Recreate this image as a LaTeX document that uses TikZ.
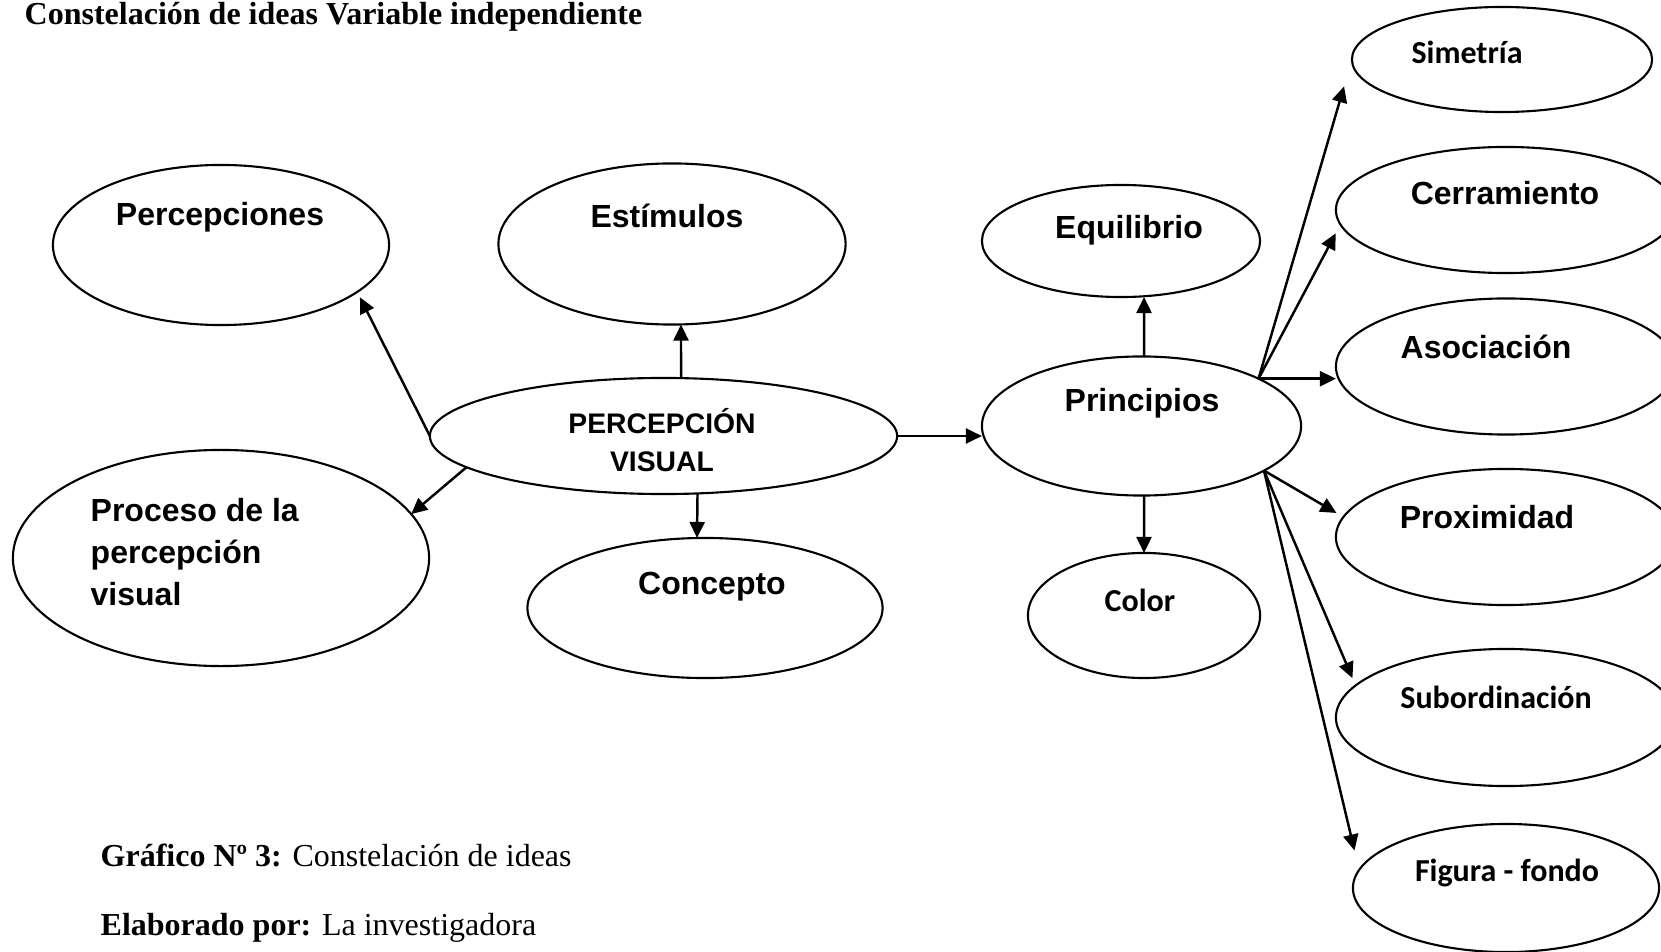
\documentclass[tikz,border=0pt]{standalone}
\usepackage{fontspec}
\setmainfont{Liberation Serif}
\newfontfamily\arialfont{Liberation Sans}
\newfontfamily\calibrifont{Carlito}
\usepackage{tikz}
\usetikzlibrary{arrows.meta, shapes.geometric}

\begin{document}
\begin{tikzpicture}[
        x=0.01cm, y=-0.01cm,
        idea/.style  = {draw, ellipse, line width=0.6pt, inner sep=0pt, outer sep=0pt},
        lbl/.style   = {inner sep=0pt, font=\arialfont\bfseries\fontsize{9.1}{11.95}\selectfont},
        lblc/.style  = {inner sep=0pt, font=\calibrifont\bfseries\fontsize{9.1}{11.95}\selectfont},
        note/.style  = {inner sep=0pt, anchor=base west, font=\fontsize{9.1}{11}\selectfont},
        arrow/.style = {-{Triangle[length=1.6mm, width=1.5mm]}, line width=0.7pt},
    ]
        \useasboundingbox (0,0) rectangle (1661,952);
        % left group
        \node[idea, minimum width=3.36cm, minimum height=1.60cm] (perc) at (221,245) {};
        \node[idea, minimum width=3.47cm, minimum height=1.61cm] (estim) at (672,244) {};
        \node[idea, minimum width=4.67cm, minimum height=1.16cm] (pv) at (663.5,436) {};
        \node[idea, minimum width=4.16cm, minimum height=2.16cm] (proc) at (221,558) {};
        \node[idea, minimum width=3.55cm, minimum height=1.40cm] (conc) at (705,608) {};
        % middle group
        \node[idea, minimum width=2.78cm, minimum height=1.12cm] (equi) at (1121,241) {};
        \node[idea, minimum width=3.19cm, minimum height=1.39cm] (prin) at (1141.5,426) {};
        \node[idea, minimum width=2.32cm, minimum height=1.25cm] (colr) at (1144,615.5) {};
        % right column
        \node[idea, minimum width=3.00cm, minimum height=1.05cm] (sime) at (1502,59.5) {};
        \node[idea, minimum width=3.40cm, minimum height=1.26cm] (cerr) at (1506,210) {};
        \node[idea, minimum width=3.40cm, minimum height=1.36cm] (asoc) at (1506,366.5) {};
        \node[idea, minimum width=3.40cm, minimum height=1.36cm] (prox) at (1506,537) {};
        \node[idea, minimum width=3.40cm, minimum height=1.37cm] (subo) at (1506,717.5) {};
        \node[idea, minimum width=3.06cm, minimum height=1.28cm] (figu) at (1506,888) {};

        % texts
        \node[lbl] (perc-t) at (220,217) {Percepciones};
        \node[lbl] (estim-t) at (667,216) {Estímulos};
        \node[lbl, align=center, font=\arialfont\bfseries\fontsize{8.05}{10.8}\selectfont] (pv-t) at (662,440) {PERCEPCIÓN\\VISUAL};
        \node[lbl, align=left, anchor=west] (proc-t) at (90,552) {Proceso de la\\percepción\\visual};
        \node[lbl] (conc-t) at (712,587) {Concepto};
        \node[lbl] (equi-t) at (1129,230) {Equilibrio};
        \node[lbl] (prin-t) at (1142,403) {Principios};
        \node[lblc] (colr-t) at (1140,600) {Color};
        \node[lblc] (sime-t) at (1467,52) {Simetría};
        \node[lbl] (cerr-t) at (1505,193) {Cerramiento};
        \node[lbl] (asoc-t) at (1486,347) {Asociación};
        \node[lbl] (prox-t) at (1487,517) {Proximidad};
        \node[lblc] (subo-t) at (1496,697) {Subordinación};
        \node[lblc] (figu-t) at (1507,873) {Figura - fondo};

        \node[note, font=\bfseries\fontsize{9.1}{11}\selectfont] (title) at (24,25) {Constelación de ideas Variable independiente};
        \node[note] (graf) at (100,866) {\textbf{Gráfico Nº 3:} Constelación de ideas};
        \node[note] (elab) at (100,935) {\textbf{Elaborado por:} La investigadora};

        % connectors
        \draw[arrow, shorten >=0.6mm] (pv.west) -- (perc.-19);
        \draw[arrow] ([xshift=1.75mm]pv.north) -- ([xshift=0.9mm]estim.south);
        \draw[arrow] (pv.189) -- (proc.13);
        \draw[arrow] ([xshift=3.4mm]pv.south) -- ([xshift=-0.8mm]conc.north);
        \draw[arrow] (pv.east) -- (pv.east -| prin.west);
        \draw[arrow] ([xshift=0.25mm]prin.north) -- ([xshift=2.3mm]equi.south);
        \draw[arrow] ([xshift=0.25mm]prin.south) -- (colr.north);
        \draw[arrow, shorten >=2.8mm] (prin.22.5) -- (sime.west);
        \draw[arrow, shorten >=1mm] (prin.22.5) -- (cerr.185);
        \draw[arrow] (prin.22.5) -- (prin.22.5 -| asoc.west);
        \draw[arrow, shorten >=0.8mm] (prin.-20) -- (prox.173);
        \draw[arrow, shorten >=0.8mm] (prin.-20) -- (subo.168);
        \draw[arrow, shorten >=2mm] (prin.-20) -- (figu.173);
    \end{tikzpicture}
\end{document}
